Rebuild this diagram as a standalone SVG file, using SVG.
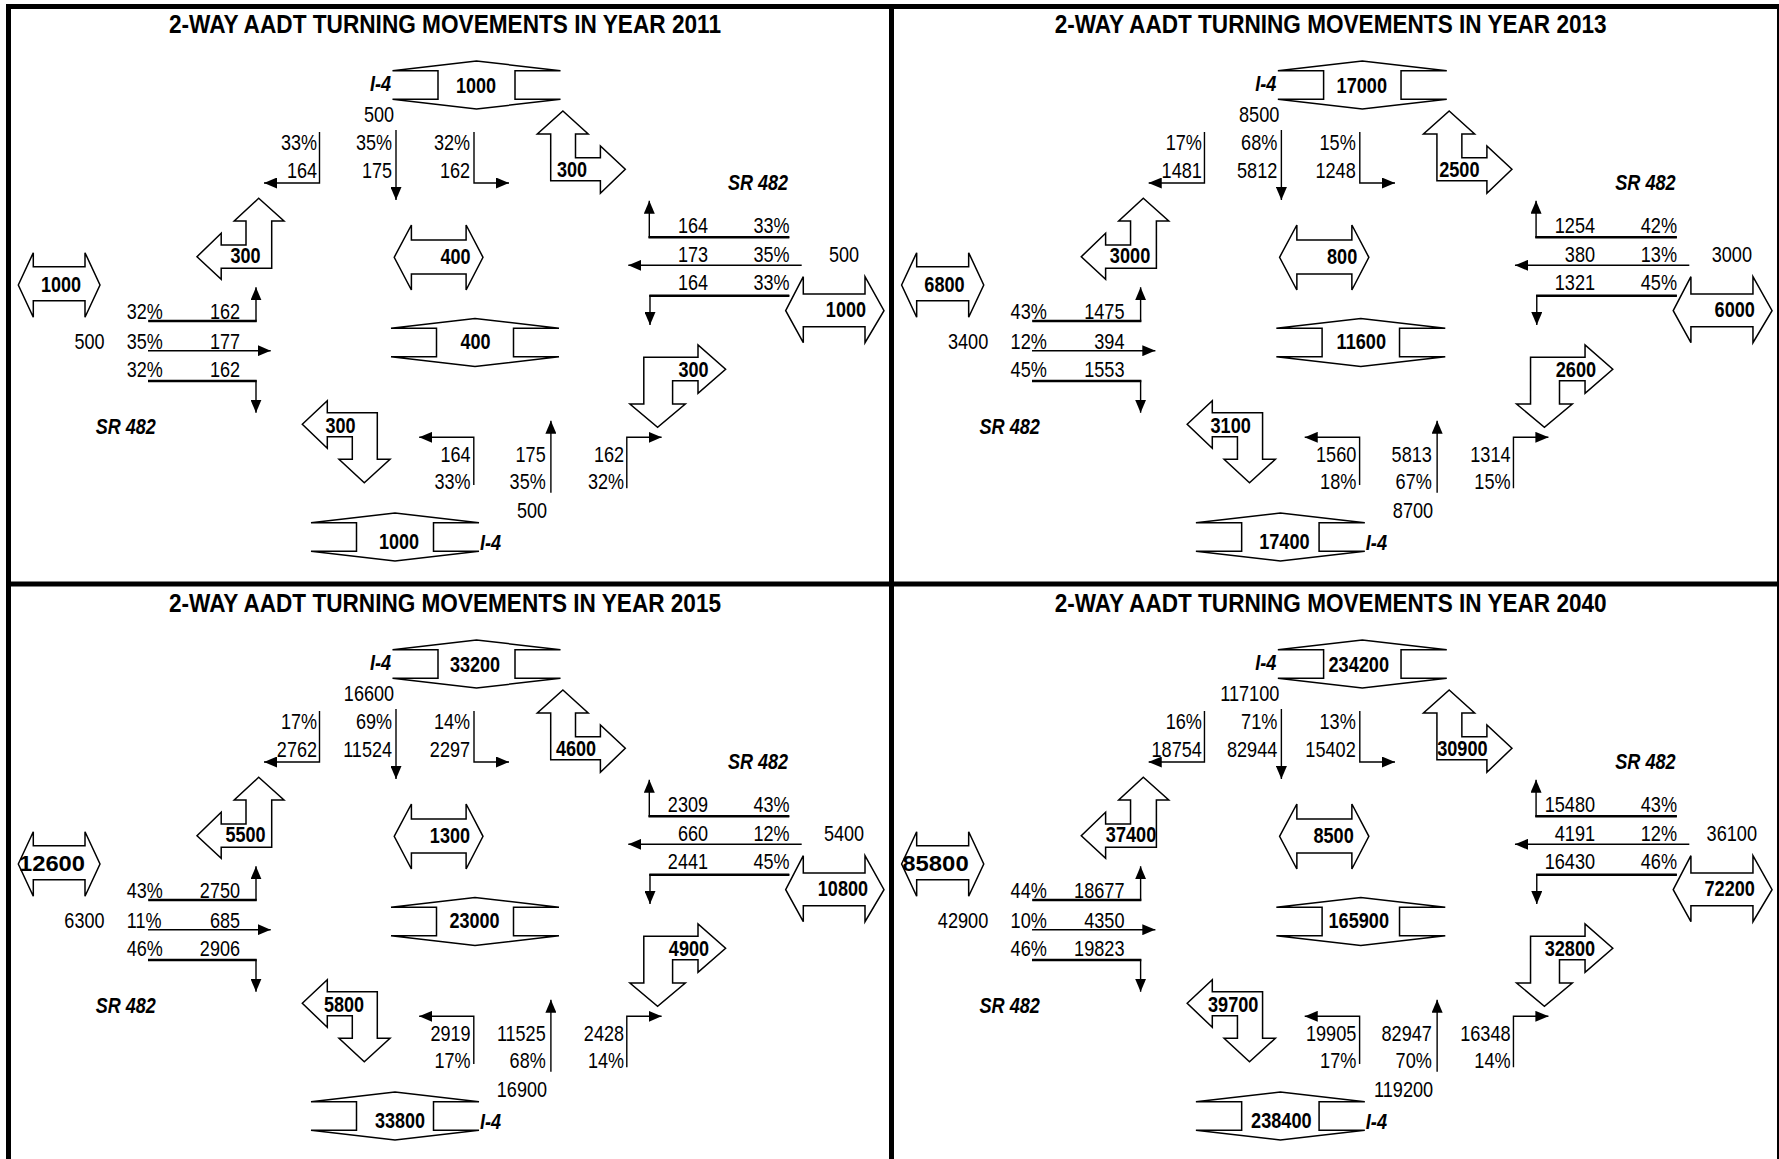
<svg xmlns="http://www.w3.org/2000/svg" xmlns:xlink="http://www.w3.org/1999/xlink" width="1779" height="1159" viewBox="0 0 1779 1159">
<style>
text{font-family:"Liberation Sans Narrow","Liberation Sans",Arial,sans-serif;font-size:22px;fill:#000;transform-box:fill-box;transform:scaleX(0.82);transform-origin:0 0}
.b{font-weight:bold}
.i{font-weight:bold;font-style:italic}
.e{text-anchor:end;transform-origin:100% 0}
.m{text-anchor:middle;transform-origin:50% 0}
.ttl{font-size:26px;font-weight:bold;text-anchor:middle;transform:none}
.fit{transform:none}
.sh{fill:#fff;stroke:#000;stroke-width:1.5;stroke-linejoin:miter}
.ln{fill:none;stroke:#000;stroke-width:1.4}
.lt{fill:none;stroke:#000;stroke-width:2.6}
.bd{fill:none;stroke:#000}
</style>
<defs>
<marker id="ah" markerUnits="userSpaceOnUse" markerWidth="13" markerHeight="11" refX="13" refY="5.5" orient="auto"><path d="M0,0 L13,5.5 L0,11 Z" fill="#000"/></marker>
<path id="dv" class="sh" d="M-84,-14.3 L0,-24 L84,-14.3 L38.5,-14.3 L38.5,14.3 L84,14.3 L0,24 L-84,14.3 L-38.5,14.3 L-38.5,-14.3 Z"/>
<path id="hl" class="sh" d="M18.3,285 L33.3,252.7 L33.3,266.7 L85,266.7 L85,252.7 L100,285 L85,317.3 L85,300.7 L33.3,300.7 L33.3,317.3 Z"/>
<path id="hc" class="sh" d="M394.2,257.3 L411.4,225 L411.4,240 L466.1,240 L466.1,225 L483,257.3 L466.1,290 L466.1,274 L411.4,274 L411.4,290 Z"/>
<path id="hr" class="sh" d="M785.7,310.7 L803.3,276.7 L803.3,294 L865,294 L865,276.7 L884,310.7 L865,342.7 L865,326.7 L803.3,326.7 L803.3,342.7 Z"/>
<path id="bul" class="sh" d="M258.7,198.3 L284,221 L271.7,221 L271.7,268.3 L221.2,268.3 L221.2,279.3 L197,256.7 L221.2,233.3 L221.2,245 L246,245 L246,221 L234.2,221 Z"/>
<path id="bur" class="sh" d="M562.9,111 L588.2,134 L575.5,134 L575.5,157.7 L600.4,157.7 L600.4,146 L625.3,169.3 L600.4,193.3 L600.4,180.7 L550.7,180.7 L550.7,134 L537.3,134 Z"/>
<path id="bbl" class="sh" d="M302.3,424.3 L327.3,400.7 L327.3,412.7 L377.3,412.7 L377.3,459.3 L390,459.3 L364.3,482.7 L339,459.3 L352.3,459.3 L352.3,436.7 L327.3,436.7 L327.3,448.3 Z"/>
<path id="bbr" class="sh" d="M643.8,357.3 L698,357.3 L698,345 L725.6,369.3 L698,393.3 L698,380.7 L672.6,380.7 L672.6,404 L685.3,404 L657.6,427.3 L629.9,404 L643.8,404 Z"/>
</defs>
<rect width="1779" height="1159" fill="#fff"/>

<!-- ============ PANEL 2011 ============ -->
<g id="panel-2011">
<text class="ttl" x="445" y="33" textLength="552" lengthAdjust="spacingAndGlyphs">2-WAY AADT TURNING MOVEMENTS IN YEAR 2011</text>
<g id="p2011-n-i4-north"><use href="#dv" x="476.5" y="85"/><text class="b m" x="476" y="93">1000</text></g>
<g id="p2011-n-ul"><use href="#bul"/><text class="b m" x="245.5" y="263">300</text></g>
<g id="p2011-n-ur"><use href="#bur"/><text class="b m" x="572" y="177.3">300</text></g>
<g id="p2011-n-sr-west"><use href="#hl"/><text class="b m" x="61" y="292">1000</text></g>
<g id="p2011-n-center-ew"><use href="#hc"/><text class="b e" x="470.5" y="264">400</text></g>
<g id="p2011-n-center-ns"><use href="#dv" x="475" y="342.5"/><text class="b m" x="475.5" y="349">400</text></g>
<g id="p2011-n-sr-east"><use href="#hr"/><text class="b e" x="866" y="317">1000</text></g>
<g id="p2011-n-bl"><use href="#bbl"/><text class="b" x="325.5" y="432.7">300</text></g>
<g id="p2011-n-br"><use href="#bbr"/><text class="b e" x="708.5" y="376.7">300</text></g>
<g id="p2011-n-i4-south"><use href="#dv" x="395" y="537"/><text class="b m" x="399" y="549">1000</text></g>
<g id="p2011-connectors">
<path class="ln" d="M319.5,132V183H264" marker-end="url(#ah)"/>
<path class="ln" d="M396,130V200" marker-end="url(#ah)"/>
<path class="ln" d="M474,132V183H509" marker-end="url(#ah)"/>
<path class="ln" d="M789.3,237.3H649.3V200.7" marker-end="url(#ah)"/><path class="lt" d="M789.3,237.3H648.5"/>
<path class="ln" d="M801.7,265.3H628.3" marker-end="url(#ah)"/>
<path class="ln" d="M789.3,295.7H650V325" marker-end="url(#ah)"/><path class="lt" d="M789.3,295.7H649.3"/>
<path class="ln" d="M148.3,321H256V287.3" marker-end="url(#ah)"/><path class="lt" d="M148.3,321H256.7"/>
<path class="ln" d="M148,350.7H270.7" marker-end="url(#ah)"/>
<path class="ln" d="M148,381H256V412.7" marker-end="url(#ah)"/><path class="lt" d="M148,381H256.7"/>
<path class="ln" d="M473.8,485V437.3H419.2" marker-end="url(#ah)"/>
<path class="ln" d="M550.9,492.7V420.7" marker-end="url(#ah)"/>
<path class="ln" d="M626.8,488.3V437.3H661.6" marker-end="url(#ah)"/>
</g>
<g id="p2011-labels">
<text class="i e" x="391" y="91.5">I-4</text>
<text class="i" x="480" y="550">I-4</text>
<text class="i" x="95.7" y="434">SR 482</text>
<text class="i" x="728" y="190">SR 482</text>
<text class="e" x="394" y="122">500</text>
<text class="e" x="317" y="150">33%</text><text class="e" x="317" y="178">164</text>
<text class="e" x="392" y="150">35%</text><text class="e" x="392" y="178">175</text>
<text class="e" x="470" y="150">32%</text><text class="e" x="470" y="178">162</text>
<text x="126.7" y="319.3">32%</text><text class="e" x="240" y="319.3">162</text>
<text class="e" x="104.5" y="349">500</text><text x="126.7" y="349">35%</text><text class="e" x="240" y="349">177</text>
<text x="126.7" y="376.7">32%</text><text class="e" x="240" y="376.7">162</text>
<text class="e" x="708" y="233.3">164</text><text class="e" x="789.5" y="233.3">33%</text>
<text class="e" x="708" y="261.7">173</text><text class="e" x="789.5" y="261.7">35%</text><text class="m" x="844" y="261.7">500</text>
<text class="e" x="708" y="290">164</text><text class="e" x="789.5" y="290">33%</text>
<text class="e" x="470.6" y="461.7">164</text><text class="e" x="470.6" y="489.3">33%</text>
<text class="e" x="545.7" y="461.7">175</text><text class="e" x="545.7" y="489.3">35%</text>
<text class="e" x="624" y="461.7">162</text><text class="e" x="624" y="489.3">32%</text>
<text class="e" x="547" y="518.3">500</text>
</g>
</g>

<!-- ============ PANEL 2013 ============ -->
<g id="panel-2013" transform="translate(883.2,0) scale(1.0055,1)">
<text class="ttl" x="445" y="33" textLength="549" lengthAdjust="spacingAndGlyphs">2-WAY AADT TURNING MOVEMENTS IN YEAR 2013</text>
<g id="p2013-n-i4-north"><use href="#dv" x="476.5" y="85"/><text class="b m" x="476" y="93">17000</text></g>
<g id="p2013-n-ul"><use href="#bul"/><text class="b m" x="245.5" y="263">3000</text></g>
<g id="p2013-n-ur"><use href="#bur"/><text class="b m" x="573" y="177.3">2500</text></g>
<g id="p2013-n-sr-west"><use href="#hl"/><text class="b m" x="61" y="292">6800</text></g>
<g id="p2013-n-center-ew"><use href="#hc"/><text class="b e" x="471.5" y="264">800</text></g>
<g id="p2013-n-center-ns"><use href="#dv" x="475" y="342.5"/><text class="b m" x="475.5" y="349">11600</text></g>
<g id="p2013-n-sr-east"><use href="#hr"/><text class="b e" x="867" y="317">6000</text></g>
<g id="p2013-n-bl"><use href="#bbl"/><text class="b" x="325.5" y="432.7">3100</text></g>
<g id="p2013-n-br"><use href="#bbr"/><text class="b e" x="709" y="376.7">2600</text></g>
<g id="p2013-n-i4-south"><use href="#dv" x="395" y="537"/><text class="b m" x="399" y="549">17400</text></g>
<g id="p2013-connectors">
<path class="ln" d="M319.5,132V183H264" marker-end="url(#ah)"/>
<path class="ln" d="M396,130V200" marker-end="url(#ah)"/>
<path class="ln" d="M474,132V183H509" marker-end="url(#ah)"/>
<path class="ln" d="M789.3,237.3H649.3V200.7" marker-end="url(#ah)"/><path class="lt" d="M789.3,237.3H648.5"/>
<path class="ln" d="M801.7,265.3H628.3" marker-end="url(#ah)"/>
<path class="ln" d="M789.3,295.7H650V325" marker-end="url(#ah)"/><path class="lt" d="M789.3,295.7H649.3"/>
<path class="ln" d="M148.3,321H256V287.3" marker-end="url(#ah)"/><path class="lt" d="M148.3,321H256.7"/>
<path class="ln" d="M148,350.7H270.7" marker-end="url(#ah)"/>
<path class="ln" d="M148,381H256V412.7" marker-end="url(#ah)"/><path class="lt" d="M148,381H256.7"/>
<path class="ln" d="M473.8,485V437.3H419.2" marker-end="url(#ah)"/>
<path class="ln" d="M550.9,492.7V420.7" marker-end="url(#ah)"/>
<path class="ln" d="M626.8,488.3V437.3H661.6" marker-end="url(#ah)"/>
</g>
<g id="p2013-labels">
<text class="i e" x="391" y="91.5">I-4</text>
<text class="i" x="480" y="550">I-4</text>
<text class="i" x="95.7" y="434">SR 482</text>
<text class="i" x="728" y="190">SR 482</text>
<text class="e" x="394" y="122">8500</text>
<text class="e" x="317" y="150">17%</text><text class="e" x="317" y="178">1481</text>
<text class="e" x="392" y="150">68%</text><text class="e" x="392" y="178">5812</text>
<text class="e" x="470" y="150">15%</text><text class="e" x="470" y="178">1248</text>
<text x="126.7" y="319.3">43%</text><text class="e" x="240" y="319.3">1475</text>
<text class="e" x="104.5" y="349">3400</text><text x="126.7" y="349">12%</text><text class="e" x="240" y="349">394</text>
<text x="126.7" y="376.7">45%</text><text class="e" x="240" y="376.7">1553</text>
<text class="e" x="708" y="233.3">1254</text><text class="e" x="789.5" y="233.3">42%</text>
<text class="e" x="708" y="261.7">380</text><text class="e" x="789.5" y="261.7">13%</text><text class="m" x="844" y="261.7">3000</text>
<text class="e" x="708" y="290">1321</text><text class="e" x="789.5" y="290">45%</text>
<text class="e" x="470.6" y="461.7">1560</text><text class="e" x="470.6" y="489.3">18%</text>
<text class="e" x="545.7" y="461.7">5813</text><text class="e" x="545.7" y="489.3">67%</text>
<text class="e" x="624" y="461.7">1314</text><text class="e" x="624" y="489.3">15%</text>
<text class="e" x="547" y="518.3">8700</text>
</g>
</g>

<!-- ============ PANEL 2015 ============ -->
<g id="panel-2015" transform="translate(0,579)">
<text class="ttl" x="445" y="33" textLength="552" lengthAdjust="spacingAndGlyphs">2-WAY AADT TURNING MOVEMENTS IN YEAR 2015</text>
<g id="p2015-n-i4-north"><use href="#dv" x="476.5" y="85"/><text class="b m" x="475" y="93">33200</text></g>
<g id="p2015-n-ul"><use href="#bul"/><text class="b m" x="245.5" y="263">5500</text></g>
<g id="p2015-n-ur"><use href="#bur"/><text class="b m" x="576" y="177.3">4600</text></g>
<g id="p2015-n-sr-west"><use href="#hl"/><text class="b m fit" x="52" y="292" textLength="66" lengthAdjust="spacingAndGlyphs">12600</text></g>
<g id="p2015-n-center-ew"><use href="#hc"/><text class="b e" x="470" y="264">1300</text></g>
<g id="p2015-n-center-ns"><use href="#dv" x="475" y="342.5"/><text class="b m" x="474.5" y="349">23000</text></g>
<g id="p2015-n-sr-east"><use href="#hr"/><text class="b e" x="868" y="317">10800</text></g>
<g id="p2015-n-bl"><use href="#bbl"/><text class="b" x="324" y="432.7">5800</text></g>
<g id="p2015-n-br"><use href="#bbr"/><text class="b e" x="709" y="376.7">4900</text></g>
<g id="p2015-n-i4-south"><use href="#dv" x="395" y="537"/><text class="b m" x="400" y="549">33800</text></g>
<g id="p2015-connectors">
<path class="ln" d="M319.5,132V183H264" marker-end="url(#ah)"/>
<path class="ln" d="M396,130V200" marker-end="url(#ah)"/>
<path class="ln" d="M474,132V183H509" marker-end="url(#ah)"/>
<path class="ln" d="M789.3,237.3H649.3V200.7" marker-end="url(#ah)"/><path class="lt" d="M789.3,237.3H648.5"/>
<path class="ln" d="M801.7,265.3H628.3" marker-end="url(#ah)"/>
<path class="ln" d="M789.3,295.7H650V325" marker-end="url(#ah)"/><path class="lt" d="M789.3,295.7H649.3"/>
<path class="ln" d="M148.3,321H256V287.3" marker-end="url(#ah)"/><path class="lt" d="M148.3,321H256.7"/>
<path class="ln" d="M148,350.7H270.7" marker-end="url(#ah)"/>
<path class="ln" d="M148,381H256V412.7" marker-end="url(#ah)"/><path class="lt" d="M148,381H256.7"/>
<path class="ln" d="M473.8,485V437.3H419.2" marker-end="url(#ah)"/>
<path class="ln" d="M550.9,492.7V420.7" marker-end="url(#ah)"/>
<path class="ln" d="M626.8,488.3V437.3H661.6" marker-end="url(#ah)"/>
</g>
<g id="p2015-labels">
<text class="i e" x="391" y="91.5">I-4</text>
<text class="i" x="480" y="550">I-4</text>
<text class="i" x="95.7" y="434">SR 482</text>
<text class="i" x="728" y="190">SR 482</text>
<text class="e" x="394" y="122">16600</text>
<text class="e" x="317" y="150">17%</text><text class="e" x="317" y="178">2762</text>
<text class="e" x="392" y="150">69%</text><text class="e" x="392" y="178">11524</text>
<text class="e" x="470" y="150">14%</text><text class="e" x="470" y="178">2297</text>
<text x="126.7" y="319.3">43%</text><text class="e" x="240" y="319.3">2750</text>
<text class="e" x="104.5" y="349">6300</text><text x="126.7" y="349">11%</text><text class="e" x="240" y="349">685</text>
<text x="126.7" y="376.7">46%</text><text class="e" x="240" y="376.7">2906</text>
<text class="e" x="708" y="233.3">2309</text><text class="e" x="789.5" y="233.3">43%</text>
<text class="e" x="708" y="261.7">660</text><text class="e" x="789.5" y="261.7">12%</text><text class="m" x="844" y="261.7">5400</text>
<text class="e" x="708" y="290">2441</text><text class="e" x="789.5" y="290">45%</text>
<text class="e" x="470.6" y="461.7">2919</text><text class="e" x="470.6" y="489.3">17%</text>
<text class="e" x="545.7" y="461.7">11525</text><text class="e" x="545.7" y="489.3">68%</text>
<text class="e" x="624" y="461.7">2428</text><text class="e" x="624" y="489.3">14%</text>
<text class="e" x="547" y="518.3">16900</text>
</g>
</g>

<!-- ============ PANEL 2040 ============ -->
<g id="panel-2040" transform="translate(883.2,579) scale(1.0055,1)">
<text class="ttl" x="445" y="33" textLength="549" lengthAdjust="spacingAndGlyphs">2-WAY AADT TURNING MOVEMENTS IN YEAR 2040</text>
<g id="p2040-n-i4-north"><use href="#dv" x="476.5" y="85"/><text class="b m" x="473" y="93">234200</text></g>
<g id="p2040-n-ul"><use href="#bul"/><text class="b m" x="246.5" y="263">37400</text></g>
<g id="p2040-n-ur"><use href="#bur"/><text class="b m" x="576" y="177.3">30900</text></g>
<g id="p2040-n-sr-west"><use href="#hl"/><text class="b m fit" x="52" y="292" textLength="66" lengthAdjust="spacingAndGlyphs">85800</text></g>
<g id="p2040-n-center-ew"><use href="#hc"/><text class="b e" x="468" y="264">8500</text></g>
<g id="p2040-n-center-ns"><use href="#dv" x="475" y="342.5"/><text class="b m" x="473" y="349">165900</text></g>
<g id="p2040-n-sr-east"><use href="#hr"/><text class="b e" x="867" y="317">72200</text></g>
<g id="p2040-n-bl"><use href="#bbl"/><text class="b" x="323" y="432.7">39700</text></g>
<g id="p2040-n-br"><use href="#bbr"/><text class="b e" x="708" y="376.7">32800</text></g>
<g id="p2040-n-i4-south"><use href="#dv" x="395" y="537"/><text class="b m" x="396" y="549">238400</text></g>
<g id="p2040-connectors">
<path class="ln" d="M319.5,132V183H264" marker-end="url(#ah)"/>
<path class="ln" d="M396,130V200" marker-end="url(#ah)"/>
<path class="ln" d="M474,132V183H509" marker-end="url(#ah)"/>
<path class="ln" d="M789.3,237.3H649.3V200.7" marker-end="url(#ah)"/><path class="lt" d="M789.3,237.3H648.5"/>
<path class="ln" d="M801.7,265.3H628.3" marker-end="url(#ah)"/>
<path class="ln" d="M789.3,295.7H650V325" marker-end="url(#ah)"/><path class="lt" d="M789.3,295.7H649.3"/>
<path class="ln" d="M148.3,321H256V287.3" marker-end="url(#ah)"/><path class="lt" d="M148.3,321H256.7"/>
<path class="ln" d="M148,350.7H270.7" marker-end="url(#ah)"/>
<path class="ln" d="M148,381H256V412.7" marker-end="url(#ah)"/><path class="lt" d="M148,381H256.7"/>
<path class="ln" d="M473.8,485V437.3H419.2" marker-end="url(#ah)"/>
<path class="ln" d="M550.9,492.7V420.7" marker-end="url(#ah)"/>
<path class="ln" d="M626.8,488.3V437.3H661.6" marker-end="url(#ah)"/>
</g>
<g id="p2040-labels">
<text class="i e" x="391" y="91.5">I-4</text>
<text class="i" x="480" y="550">I-4</text>
<text class="i" x="95.7" y="434">SR 482</text>
<text class="i" x="728" y="190">SR 482</text>
<text class="e" x="394" y="122">117100</text>
<text class="e" x="317" y="150">16%</text><text class="e" x="317" y="178">18754</text>
<text class="e" x="392" y="150">71%</text><text class="e" x="392" y="178">82944</text>
<text class="e" x="470" y="150">13%</text><text class="e" x="470" y="178">15402</text>
<text x="126.7" y="319.3">44%</text><text class="e" x="240" y="319.3">18677</text>
<text class="e" x="104.5" y="349">42900</text><text x="126.7" y="349">10%</text><text class="e" x="240" y="349">4350</text>
<text x="126.7" y="376.7">46%</text><text class="e" x="240" y="376.7">19823</text>
<text class="e" x="708" y="233.3">15480</text><text class="e" x="789.5" y="233.3">43%</text>
<text class="e" x="708" y="261.7">4191</text><text class="e" x="789.5" y="261.7">12%</text><text class="m" x="844" y="261.7">36100</text>
<text class="e" x="708" y="290">16430</text><text class="e" x="789.5" y="290">46%</text>
<text class="e" x="470.6" y="461.7">19905</text><text class="e" x="470.6" y="489.3">17%</text>
<text class="e" x="545.7" y="461.7">82947</text><text class="e" x="545.7" y="489.3">70%</text>
<text class="e" x="624" y="461.7">16348</text><text class="e" x="624" y="489.3">14%</text>
<text class="e" x="547" y="518.3">119200</text>
</g>
</g>

<g id="borders">
<path class="bd" stroke-width="5" d="M6,6.5H1779"/>
<path class="bd" stroke-width="5" d="M8.5,4V1159"/>
<path class="bd" stroke-width="2" d="M1778,4V1159"/>
<path class="bd" stroke-width="5" d="M891.5,4V1159"/>
<path class="bd" stroke-width="5" d="M6,584H1779"/>
</g>
</svg>
